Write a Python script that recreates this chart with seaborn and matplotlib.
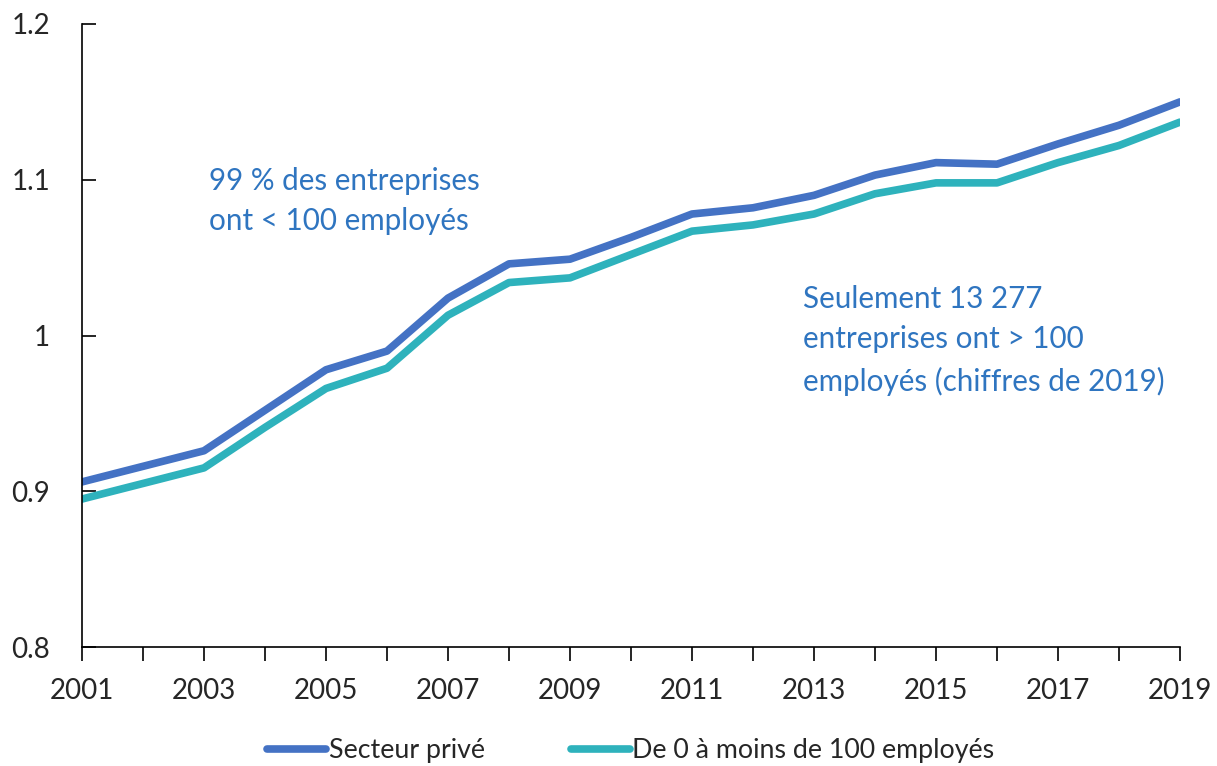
import numpy as np
import pandas as pd
import matplotlib
matplotlib.use("Agg")
import matplotlib.pyplot as plt
import seaborn as sns

# === Données ===
annees = list(range(2001, 2020))
secteur_prive = [0.906, 0.916, 0.926, 0.952, 0.978, 0.990, 1.024, 1.046, 1.049, 1.063,
                 1.078, 1.082, 1.090, 1.103, 1.111, 1.110, 1.123, 1.135, 1.150]
moins_100 = [0.895, 0.905, 0.915, 0.941, 0.966, 0.979, 1.013, 1.034, 1.037, 1.052,
             1.067, 1.071, 1.078, 1.091, 1.098, 1.098, 1.111, 1.122, 1.137]
series = ["Secteur privé", "De 0 à moins de 100 employés"]
couleurs = ["#4472C4", "#2EB2BC"]
y_ticks = [0.8, 0.9, 1.0, 1.1, 1.2]
y_labels = ["0.8", "0.9", "1", "1.1", "1.2"]

df = pd.DataFrame({"Année": annees * 2,
                   "Valeur": secteur_prive + moins_100,
                   "Série": [series[0]] * len(annees) + [series[1]] * len(annees)})

sns.set_style("white")
plt.rcParams["font.family"] = ["Lato", "DejaVu Sans"]

fig = plt.figure(figsize=(12.17, 7.66), dpi=100)
ax = fig.add_axes([82 / 1217, 1 - 647 / 766, (1180 - 82) / 1217, (647 - 24) / 766])

sns.lineplot(data=df, x="Année", y="Valeur", hue="Série", palette=couleurs,
             linewidth=5.5, ax=ax, legend=True)

ax.set_xlim(2001, 2019)
ax.set_ylim(0.8, 1.2)
ax.set_xticks(annees)
ax.set_xticklabels([str(a) if (a - 2001) % 2 == 0 else "" for a in annees])
ax.set_yticks(y_ticks)
ax.set_yticklabels(y_labels, ha="right")
ax.set_xlabel("")
ax.set_ylabel("")

for s in ["top", "right"]:
    ax.spines[s].set_visible(False)
for s in ["left", "bottom"]:
    ax.spines[s].set_color("black")
    ax.spines[s].set_linewidth(1.2)

ax.tick_params(axis="x", direction="out", length=10, width=1.2, color="black",
               labelsize=20, pad=12, bottom=True)
ax.tick_params(axis="y", direction="in", length=10, width=1.2, color="black",
               labelsize=20, pad=23, left=True)

texte_col = "#2F75C0"
ax.text(2003.08, 1.0864, "99 % des entreprises\nont < 100 employés", color=texte_col,
        fontsize=21.3, va="center", ha="left", linespacing=1.5)
ax.text(2012.82, 0.997, "Seulement 13 277\nentreprises ont > 100\nemployés (chiffres de 2019)",
        color=texte_col, fontsize=21.3, va="center", ha="left", linespacing=1.55)

handles, labels = ax.get_legend_handles_labels()
ax.legend(handles, labels, loc="center", bbox_to_anchor=(0.5, -0.166), ncol=2,
          frameon=False, fontsize=19.3, handlelength=2.2, handletextpad=0.1,
          columnspacing=3.2, borderpad=0)

fig.savefig("out.png", dpi=100)
